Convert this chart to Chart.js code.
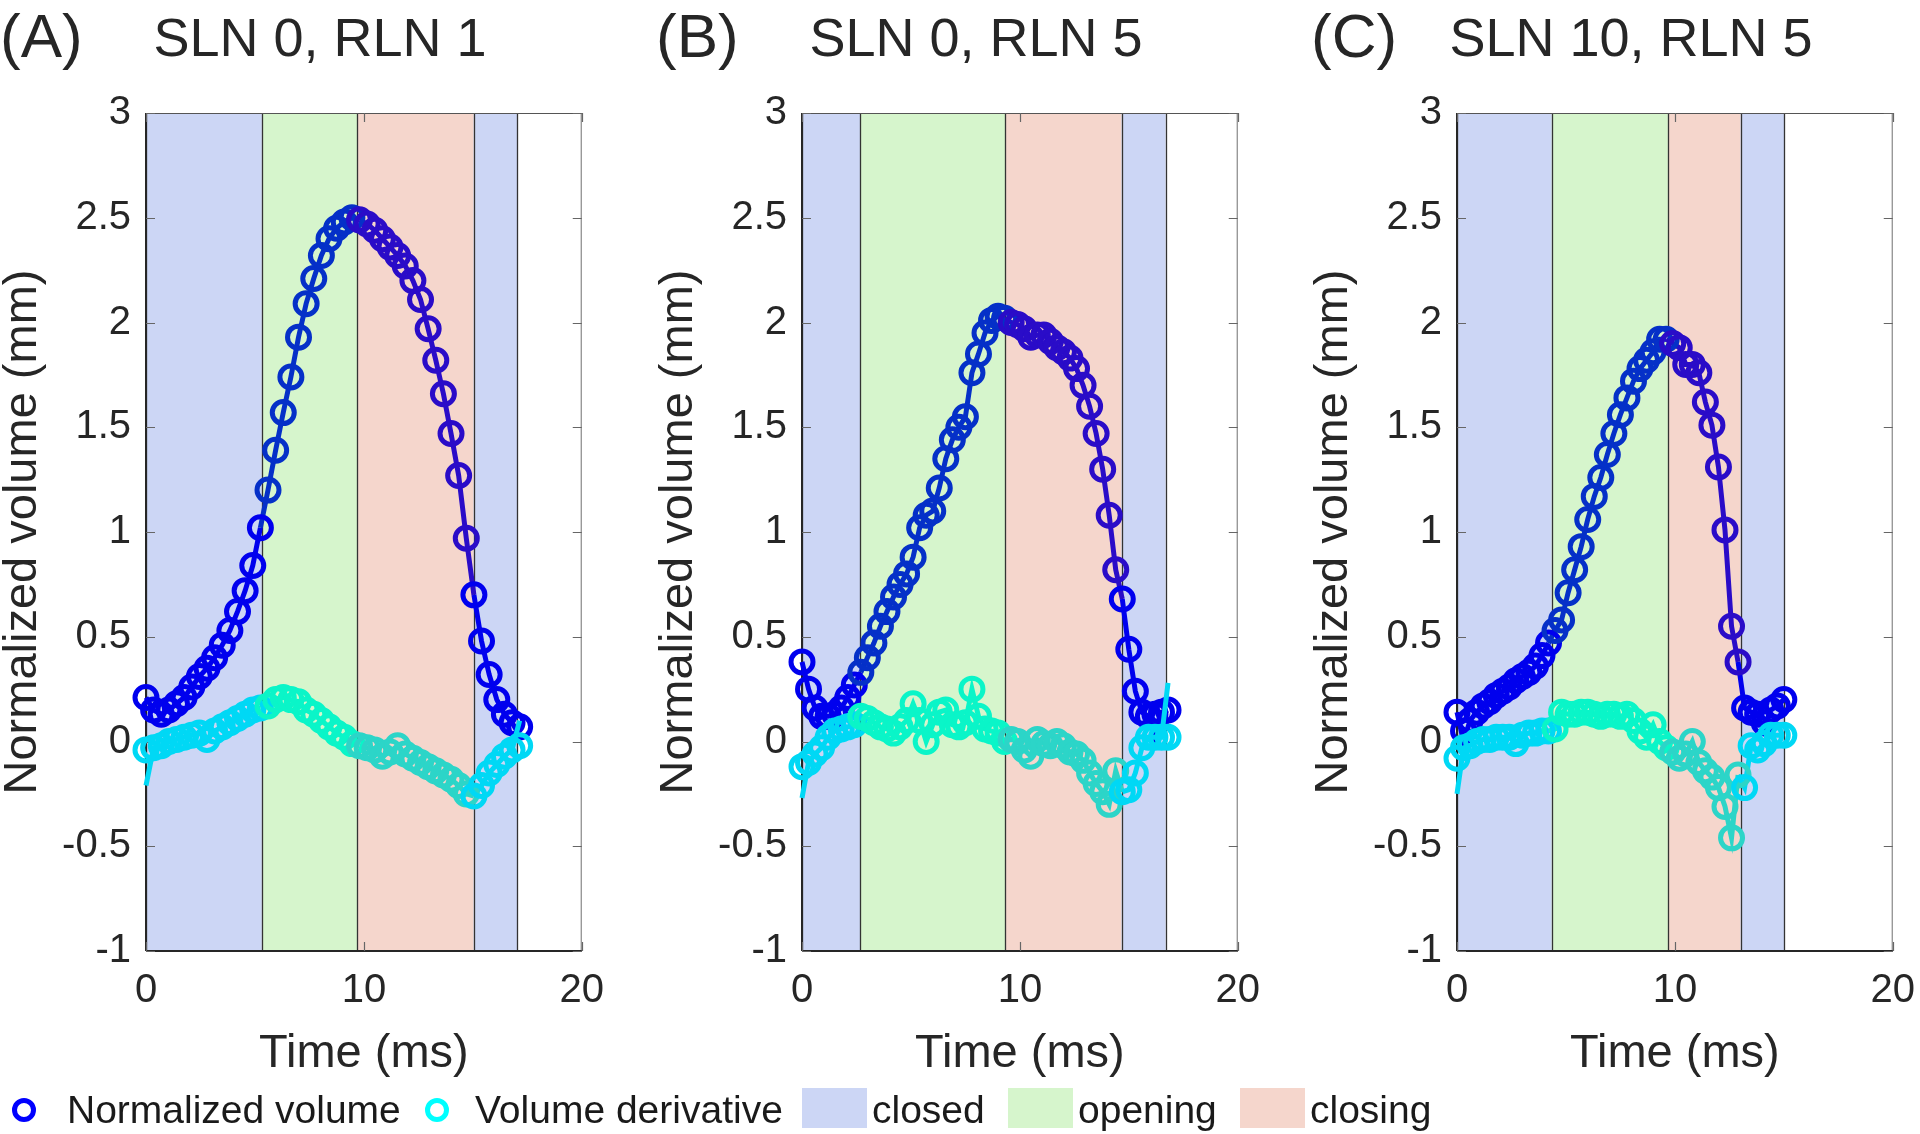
<!DOCTYPE html>
<html>
<head>
<meta charset="utf-8">
<script src="https://cdn.jsdelivr.net/npm/chart.js@4.4.0/dist/chart.umd.min.js"></script>
<style>
  html, body { margin: 0; padding: 0; background: #fff; }
  body { width: 1920px; height: 1134px; position: relative; overflow: hidden;
         font-family: "Liberation Sans", Arial, sans-serif; color: #1a1a1a; }
  canvas.panel { position: absolute; top: 0; }
  .leg { position: absolute; top: 1090px; font-size: 39px; line-height: 39px; white-space: nowrap; }
  .mark { position: absolute; top: 1098px; width: 14px; height: 14px; border-radius: 50%; border: 5px solid; }
  .patch { position: absolute; top: 1088px; width: 65px; height: 40px; }
</style>
</head>
<body>
<canvas id="chartA" class="panel" width="620" height="1134" style="left:0px"></canvas>
<canvas id="chartB" class="panel" width="620" height="1134" style="left:656px"></canvas>
<canvas id="chartC" class="panel" width="620" height="1134" style="left:1311px"></canvas>

<div class="mark" style="left:12px; border-color:#0000ff"></div>
<div class="leg" style="left:67px">Normalized volume</div>
<div class="mark" style="left:425px; border-color:#00ffff"></div>
<div class="leg" style="left:475px">Volume derivative</div>
<div class="patch" style="left:802px; background:#ccd6f5"></div>
<div class="leg" style="left:872px">closed</div>
<div class="patch" style="left:1008px; background:#d6f5cc"></div>
<div class="leg" style="left:1078px">opening</div>
<div class="patch" style="left:1240px; background:#f5d6cc"></div>
<div class="leg" style="left:1310px">closing</div>

<script>
// ---- data ----
const phaseNames = ["closed", "opening", "closing", "closed"];

// (A) SLN 0, RLN 1
const tA = [0, 0.35, 0.7, 1.05, 1.4, 1.75, 2.1, 2.45, 2.8, 3.15, 3.5, 3.85, 4.2, 4.55, 4.9, 5.25, 5.6, 5.95, 6.3, 6.65,
  7, 7.35, 7.7, 8.05, 8.4, 8.75, 9.1, 9.45, 9.8, 10.15, 10.5, 10.85, 11.2, 11.55, 11.9, 12.25, 12.6, 12.95, 13.3, 13.65,
  14, 14.35, 14.7, 15.05, 15.4, 15.75, 16.1, 16.45, 16.8, 17.15];
const volA = [0.21, 0.15, 0.13, 0.15, 0.18, 0.21, 0.26, 0.31, 0.35, 0.40, 0.46, 0.53, 0.62, 0.72, 0.84, 1.02, 1.20, 1.39, 1.57, 1.74,
  1.93, 2.09, 2.21, 2.32, 2.40, 2.45, 2.48, 2.50, 2.49, 2.47, 2.44, 2.40, 2.36, 2.32, 2.27, 2.20, 2.11, 1.97, 1.82, 1.66,
  1.47, 1.27, 0.97, 0.70, 0.48, 0.32, 0.20, 0.13, 0.09, 0.07];
const derA = [-0.04, -0.03, -0.02, 0.00, 0.01, 0.02, 0.03, 0.04, 0.01, 0.05, 0.07, 0.09, 0.11, 0.13, 0.15, 0.16, 0.17, 0.20, 0.21, 0.20,
  0.19, 0.15, 0.13, 0.10, 0.07, 0.04, 0.02, -0.01, -0.02, -0.03, -0.04, -0.07, -0.05, -0.02, -0.06, -0.08, -0.10, -0.12, -0.14, -0.16,
  -0.18, -0.21, -0.25, -0.26, -0.21, -0.15, -0.11, -0.07, -0.04, -0.02];
const edgesA = [0, 5.32, 9.70, 15.04, 17.04];
const volFitFixA = [[17.15, 0.03]];
const derFitFixA = [[0, -0.21], [17.15, 0.10]];

// (B) SLN 0, RLN 5
const tB = [0, 0.3, 0.6, 0.9, 1.2, 1.5, 1.8, 2.1, 2.4, 2.7, 3, 3.3, 3.6, 3.9, 4.2, 4.5, 4.8, 5.1, 5.4, 5.7,
  6, 6.3, 6.6, 6.9, 7.2, 7.5, 7.8, 8.1, 8.4, 8.7, 9, 9.3, 9.6, 9.9, 10.2, 10.5, 10.8, 11.1, 11.4, 11.7,
  12, 12.3, 12.6, 12.9, 13.2, 13.5, 13.8, 14.1, 14.4, 14.7, 15, 15.3, 15.6, 15.9, 16.2, 16.5, 16.8];
const volB = [0.38, 0.25, 0.16, 0.12, 0.12, 0.13, 0.16, 0.21, 0.27, 0.33, 0.40, 0.47, 0.55, 0.62, 0.69, 0.75, 0.80, 0.88, 1.02, 1.08,
  1.10, 1.21, 1.35, 1.44, 1.50, 1.55, 1.76, 1.85, 1.95, 2.01, 2.03, 2.02, 2.00, 1.99, 1.97, 1.93, 1.94, 1.94, 1.91, 1.88,
  1.86, 1.83, 1.78, 1.70, 1.60, 1.47, 1.30, 1.08, 0.82, 0.68, 0.44, 0.24, 0.14, 0.12, 0.13, 0.14, 0.15];
const derB = [-0.12, -0.10, -0.06, -0.03, 0.02, 0.05, 0.06, 0.07, 0.08, 0.12, 0.11, 0.09, 0.07, 0.06, 0.04, 0.07, 0.10, 0.18, 0.10, 0.00,
  0.08, 0.14, 0.15, 0.08, 0.07, 0.09, 0.25, 0.12, 0.06, 0.05, 0.04, 0.00, 0.01, 0.00, -0.04, -0.07, 0.01, -0.01, -0.02, 0.00,
  -0.02, -0.05, -0.06, -0.09, -0.15, -0.20, -0.24, -0.30, -0.14, -0.24, -0.23, -0.15, -0.03, 0.02, 0.02, 0.02, 0.02];
const edgesB = [0, 2.67, 9.33, 14.67, 16.69];
const volFitFixB = [[16.2, 0.02]];
const derFitFixB = [[0, -0.27], [16.8, 0.28]];

// (C) SLN 10, RLN 5
const tC = [0, 0.3, 0.6, 0.9, 1.2, 1.5, 1.8, 2.1, 2.4, 2.7, 3, 3.3, 3.6, 3.9, 4.2, 4.5, 4.8, 5.1, 5.4, 5.7,
  6, 6.3, 6.6, 6.9, 7.2, 7.5, 7.8, 8.1, 8.4, 8.7, 9, 9.3, 9.6, 9.9, 10.2, 10.5, 10.8, 11.1, 11.4, 11.7,
  12, 12.3, 12.6, 12.9, 13.2, 13.5, 13.8, 14.1, 14.4, 14.7, 15];
const volC = [0.14, 0.05, 0.10, 0.14, 0.17, 0.19, 0.22, 0.24, 0.26, 0.29, 0.31, 0.33, 0.36, 0.41, 0.47, 0.53, 0.58, 0.71, 0.82, 0.93,
  1.06, 1.17, 1.26, 1.37, 1.47, 1.56, 1.64, 1.72, 1.78, 1.82, 1.86, 1.92, 1.92, 1.90, 1.88, 1.80, 1.80, 1.76, 1.62, 1.51,
  1.31, 1.01, 0.55, 0.38, 0.16, 0.14, 0.13, 0.09, 0.15, 0.17, 0.20];
const derC = [-0.08, -0.03, -0.02, 0.00, 0.01, 0.01, 0.02, 0.02, 0.02, -0.01, 0.03, 0.04, 0.04, 0.05, 0.05, 0.06, 0.14, 0.13, 0.13, 0.14,
  0.14, 0.13, 0.12, 0.13, 0.13, 0.12, 0.13, 0.10, 0.05, 0.02, 0.08, 0.00, -0.03, -0.05, -0.08, -0.06, 0.00, -0.10, -0.14, -0.17,
  -0.22, -0.31, -0.46, -0.16, -0.22, -0.02, -0.04, -0.01, 0.03, 0.03, 0.03];
const edgesC = [0, 4.35, 9.68, 13.02, 15.03];
const volFitFixC = [[0.3, 0.0], [14.1, 0.05]];
const derFitFixC = [[0, -0.25]];

const xTicks = [0, 10, 20];
const yTicks = [-1, -0.5, 0, 0.5, 1, 1.5, 2, 2.5, 3];

// ---- styling ----
const FONT = '"Liberation Sans", Arial, sans-serif';
const INK = "#262626";
const phaseFill = { closed: "#ccd6f5", opening: "#d6f5cc", closing: "#f5d6cc" };
const volColor = { closed: "#0000ee", opening: "#0530c8", closing: "#2a0cc8" };
const derColor = { closed: "#00d8f5", opening: "#0af5c8", closing: "#2cd5c8" };

function phaseAt(edges, t) {
  for (let i = edges.length - 2; i >= 0; i--) {
    if (t >= edges[i]) return phaseNames[i];
  }
  return phaseNames[0];
}

function pts(t, v) {
  return t.map(function (x, i) { return { x: x, y: v[i] }; });
}

function withFixes(t, v, fixes) {
  const out = v.slice();
  fixes.forEach(function (f) {
    const i = t.indexOf(f[0]);
    if (i >= 0) out[i] = f[1];
  });
  return out;
}

const decor = {
  id: "decor",
  beforeDatasetsDraw(chart, args, o) {
    const ctx = chart.ctx, a = chart.chartArea;
    const x = chart.scales.x, y = chart.scales.y;
    ctx.save();
    // phase bands
    for (let i = 0; i < o.edges.length - 1; i++) {
      const x0 = x.getPixelForValue(o.edges[i]);
      const x1 = x.getPixelForValue(o.edges[i + 1]);
      ctx.fillStyle = phaseFill[phaseNames[i]];
      ctx.fillRect(x0, a.top, x1 - x0, a.bottom - a.top);
    }
    ctx.strokeStyle = "#333";
    ctx.lineWidth = 1.3;
    for (let i = 0; i < o.edges.length; i++) {
      const px = Math.round(x.getPixelForValue(o.edges[i])) + 0.5;
      ctx.beginPath();
      ctx.moveTo(px, a.top);
      ctx.lineTo(px, a.bottom);
      ctx.stroke();
    }
    // axes box
    ctx.strokeStyle = "#555";
    ctx.lineWidth = 1.2;
    ctx.beginPath();
    ctx.moveTo(a.left, a.top + 0.5);
    ctx.lineTo(a.right, a.top + 0.5);
    ctx.stroke();
    ctx.strokeStyle = "#888";
    ctx.beginPath();
    ctx.moveTo(a.right - 0.5, a.top);
    ctx.lineTo(a.right - 0.5, a.bottom);
    ctx.stroke();
    ctx.strokeStyle = INK;
    ctx.lineWidth = 2;
    ctx.beginPath();
    ctx.moveTo(a.left, a.bottom);
    ctx.lineTo(a.right, a.bottom);
    ctx.moveTo(a.left, a.top);
    ctx.lineTo(a.left, a.bottom);
    ctx.stroke();
    // inward ticks
    ctx.strokeStyle = "#666";
    ctx.lineWidth = 1.2;
    ctx.beginPath();
    yTicks.forEach(function (v) {
      const py = Math.round(y.getPixelForValue(v)) + 0.5;
      ctx.moveTo(a.left, py); ctx.lineTo(a.left + 9, py);
      ctx.moveTo(a.right, py); ctx.lineTo(a.right - 9, py);
    });
    xTicks.forEach(function (v) {
      const px = Math.round(x.getPixelForValue(v)) + 0.5;
      ctx.moveTo(px, a.bottom); ctx.lineTo(px, a.bottom - 9);
      ctx.moveTo(px, a.top); ctx.lineTo(px, a.top + 9);
    });
    ctx.stroke();
    ctx.restore();
  },
  afterDraw(chart, args, o) {
    const ctx = chart.ctx, a = chart.chartArea;
    ctx.save();
    ctx.fillStyle = INK;
    ctx.textBaseline = "alphabetic";
    ctx.font = "62px " + FONT;
    ctx.textAlign = "left";
    ctx.fillText(o.letter, a.left - 146, 57);
    ctx.font = "54px " + FONT;
    ctx.textAlign = "center";
    ctx.fillText(o.title, a.left + 174, 56);
    ctx.restore();
  }
};

function makePanel(id, letter, title, t, vol, der, edges, volFix, derFix) {
  const volFit = withFixes(t, vol, volFix);
  const derFit = withFixes(t, der, derFix);
  function markerColor(map) {
    return function (c) {
      if (!c.raw) return map.closed;
      return map[phaseAt(edges, c.raw.x)];
    };
  }
  function segColor(map) {
    return function (s) {
      return map[phaseAt(edges, (s.p0.parsed.x + s.p1.parsed.x) / 2)];
    };
  }
  const marker = { showLine: false, pointRadius: 11, pointHoverRadius: 11, pointBorderWidth: 5,
    pointBackgroundColor: "rgba(0,0,0,0)" };
  const line = { showLine: true, pointRadius: 0, pointHoverRadius: 0, borderWidth: 5, tension: 0 };

  new Chart(document.getElementById(id), {
    type: "scatter",
    data: {
      datasets: [
        Object.assign({ label: "Volume derivative", data: pts(t, der), pointBorderColor: markerColor(derColor) }, marker),
        Object.assign({ label: "derivative fit", data: pts(t, derFit), borderColor: derColor.closed,
          segment: { borderColor: segColor(derColor) } }, line),
        Object.assign({ label: "Normalized volume", data: pts(t, vol), pointBorderColor: markerColor(volColor) }, marker),
        Object.assign({ label: "volume fit", data: pts(t, volFit), borderColor: volColor.closed,
          segment: { borderColor: segColor(volColor) } }, line)
      ]
    },
    options: {
      responsive: false,
      animation: false,
      devicePixelRatio: 1,
      clip: false,
      layout: { padding: { left: 0, right: 38, top: 113, bottom: 0 } },
      plugins: {
        legend: { display: false },
        tooltip: { enabled: false },
        decor: { letter: letter, title: title, edges: edges }
      },
      scales: {
        x: {
          type: "linear", min: 0, max: 20,
          afterFit: function (s) { s.height = 183; },
          grid: { display: false, drawTicks: false },
          border: { display: false },
          ticks: { stepSize: 10, autoSkip: false, maxRotation: 0, padding: 16, color: INK,
            font: { family: FONT, size: 40 } },
          title: { display: true, text: "Time (ms)", color: INK,
            font: { family: FONT, size: 47, lineHeight: 1 }, padding: { top: 0, bottom: 56 } }
        },
        y: {
          type: "linear", min: -1, max: 3,
          afterFit: function (s) { s.width = 146; },
          grid: { display: false, drawTicks: false },
          border: { display: false },
          ticks: { stepSize: 0.5, padding: 15, color: INK, font: { family: FONT, size: 40 },
            callback: function (v) { return String(v); } },
          title: { display: true, text: "Normalized volume (mm)", color: INK,
            font: { family: FONT, size: 47, lineHeight: 1 }, padding: { top: 0, bottom: 0 } }
        }
      }
    },
    plugins: [decor]
  });
}

makePanel("chartA", "(A)", "SLN 0, RLN 1", tA, volA, derA, edgesA, volFitFixA, derFitFixA);
makePanel("chartB", "(B)", "SLN 0, RLN 5", tB, volB, derB, edgesB, volFitFixB, derFitFixB);
makePanel("chartC", "(C)", "SLN 10, RLN 5", tC, volC, derC, edgesC, volFitFixC, derFitFixC);
</script>
</body>
</html>
